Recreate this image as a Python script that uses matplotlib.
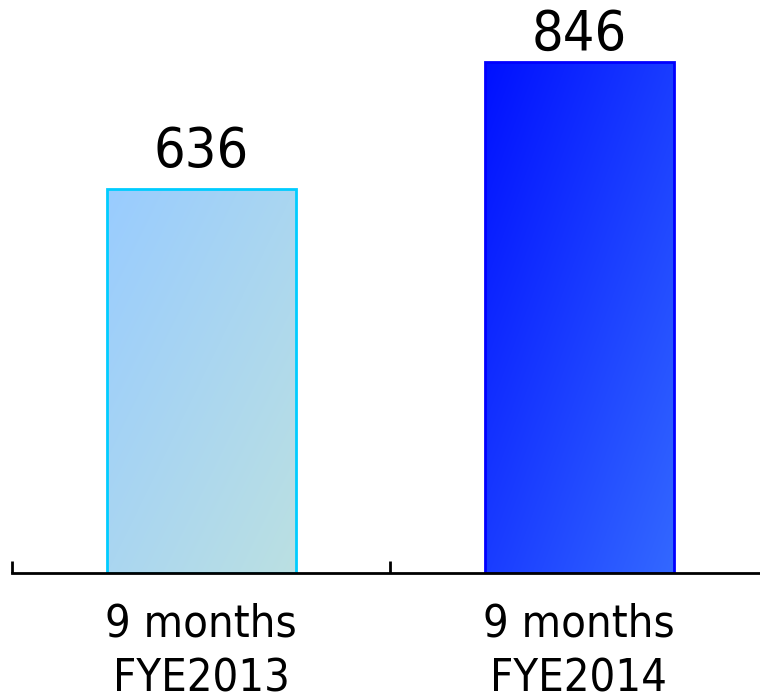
import numpy as np
import matplotlib
matplotlib.use("Agg")
import matplotlib.pyplot as plt
from matplotlib.patches import Rectangle

categories = ["9 months\nFYE2013", "9 months\nFYE2014"]
values = [636, 846]
label_gap_pts = [7.5, 0]

grad_start = [(153, 204, 255), (0, 16, 255)]
grad_end = [(187, 224, 226), (51, 104, 255)]
edge_colors = ["#00CCFF", "#0000FF"]

plt.rcParams['font.family'] = ['DejaVu Sans']

fig = plt.figure(figsize=(7.6, 7.0), dpi=100)
ax = fig.add_axes([12/760, 1 - 573/700, 756/760, 567.6/700])
ax.set_xlim(-0.5, 1.5)
ax.set_ylim(0, 940)

x = np.arange(len(values))
width = 0.5
bars = ax.bar(x, values, width=width, facecolor='none', edgecolor='none', zorder=2)

for i, b in enumerate(bars):
    x0, y0 = b.get_x(), b.get_y()
    w, h = b.get_width(), b.get_height()
    ny, nx = 200, 100
    u = np.linspace(0, 1, nx)[None, :]
    v = np.linspace(0, 1, ny)[:, None]
    t = (u * 0.5 + v * 0.5)
    c0 = np.array(grad_start[i]) / 255
    c1 = np.array(grad_end[i]) / 255
    img = c0[None, None, :] * (1 - t[..., None]) + c1[None, None, :] * t[..., None]
    im = ax.imshow(img, extent=(x0, x0 + w, y0, y0 + h), origin='upper',
                   aspect='auto', zorder=1, interpolation='bilinear')
    rect = Rectangle((x0, y0), w, h, facecolor='none', edgecolor=edge_colors[i],
                     linewidth=2, zorder=3)
    ax.add_patch(rect)
    im.set_clip_path(rect)
    ax.annotate(str(values[i]), (x[i], values[i]), xytext=(0, label_gap_pts[i]),
                textcoords='offset points', ha='center', va='bottom',
                fontsize=40, fontstretch='condensed', color='black')

ax.set_xlim(-0.5, 1.5)
ax.set_ylim(0, 940)

for s in ['top', 'right', 'left']:
    ax.spines[s].set_visible(False)
ax.spines['bottom'].set_linewidth(2)
ax.spines['bottom'].set_zorder(4)
ax.set_yticks([])
ax.set_xticks([-0.5, 0.5, 1.5])
ax.set_xticklabels([])
ax.tick_params(axis='x', direction='in', length=9, width=2)
ax.set_xticks(x, minor=True)
ax.set_xticklabels(categories, minor=True, fontsize=32.5, fontstretch='condensed',
                   linespacing=1.37)
ax.tick_params(axis='x', which='minor', length=0, pad=21)

fig.savefig("out.png", dpi=100)
